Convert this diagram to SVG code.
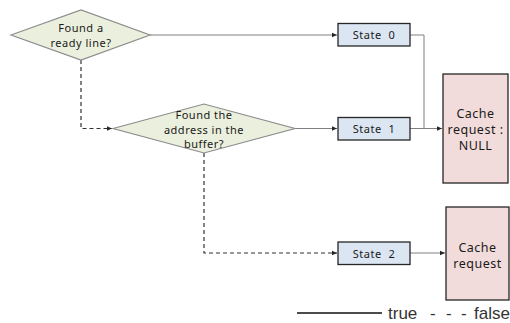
<svg xmlns="http://www.w3.org/2000/svg" width="510" height="323" viewBox="0 0 510 323">
<style>
.dia{fill:#ebefdd;stroke:#8c8c8c;stroke-width:1.2}
.st{fill:#dce6f2;stroke:#262626;stroke-width:1.3}
.cr{fill:#f2dcdb;stroke:#262626;stroke-width:1.3}
.t{font-family:"Noto Sans","Liberation Sans",sans-serif;font-size:11px;letter-spacing:0.5px;fill:#1a1a1a;text-anchor:middle}
.c{font-family:"Noto Sans","Liberation Sans",sans-serif;font-size:12.5px;letter-spacing:0.5px;fill:#1a1a1a;text-anchor:middle}
.ln{fill:none;stroke:#808080;stroke-width:1}
.ds{fill:none;stroke:#333;stroke-width:1.2;stroke-dasharray:4 3}
.lg{font-family:"Liberation Sans",Arial,sans-serif;font-size:17px;fill:#333}
</style>
<defs>
<marker id="ah" markerWidth="6" markerHeight="6" refX="5" refY="3" orient="auto" markerUnits="userSpaceOnUse">
<path d="M0,0.8 L5,3 L0,5.2 z" fill="#262626"/>
</marker>
</defs>
<g id="connectors">
<path class="ln" d="M150,35 H337" marker-end="url(#ah)"/>
<path class="ln" d="M410,35 H424 V128.5"/>
<path class="ln" d="M295,128.5 H337" marker-end="url(#ah)"/>
<path class="ln" d="M410,128.5 H442" marker-end="url(#ah)"/>
<path class="ln" d="M410,253 H445" marker-end="url(#ah)"/>
<path class="ds" d="M81,60 V128.5 H112" marker-end="url(#ah)"/>
<path class="ds" d="M204,153 V253 H337" marker-end="url(#ah)"/>
</g>
<g id="q1">
<polygon class="dia" points="11,35 81,10 150,35 81,60"/>
<text class="t" x="81" y="32">Found a</text>
<text class="t" x="81" y="47">ready line?</text>
</g>
<g id="q2">
<polygon class="dia" points="113,128.5 204,104 295,128.5 204,153"/>
<text class="t" x="204" y="119">Found the</text>
<text class="t" x="204" y="134">address in the</text>
<text class="t" x="204" y="148">buffer?</text>
</g>
<g id="s0">
<rect class="st" x="338" y="23.5" width="72" height="22.5"/>
<text class="t" x="374" y="39" xml:space="preserve">State  0</text>
</g>
<g id="s1">
<rect class="st" x="338" y="117.5" width="72" height="22.5"/>
<text class="t" x="374" y="133" xml:space="preserve">State  1</text>
</g>
<g id="s2">
<rect class="st" x="338" y="242" width="72" height="22.5"/>
<text class="t" x="374" y="257.5" xml:space="preserve">State  2</text>
</g>
<g id="cnull">
<rect class="cr" x="443" y="74" width="65" height="109"/>
<text class="c" x="475.5" y="118">Cache</text>
<text class="c" x="475.5" y="134">request :</text>
<text class="c" x="475.5" y="150">NULL</text>
</g>
<g id="creq">
<rect class="cr" x="446" y="207" width="63" height="93"/>
<text class="c" x="477.5" y="252">Cache</text>
<text class="c" x="477.5" y="268">request</text>
</g>
<g id="legend">
<line x1="297" y1="313" x2="382" y2="313" stroke="#111" stroke-width="1.3"/>
<text class="lg" x="388" y="319">true</text>
<text class="lg" x="430" y="319">-</text>
<text class="lg" x="446" y="319">-</text>
<text class="lg" x="461" y="319">-</text>
<text class="lg" x="510" y="319" text-anchor="end">false</text>
</g>
</svg>
